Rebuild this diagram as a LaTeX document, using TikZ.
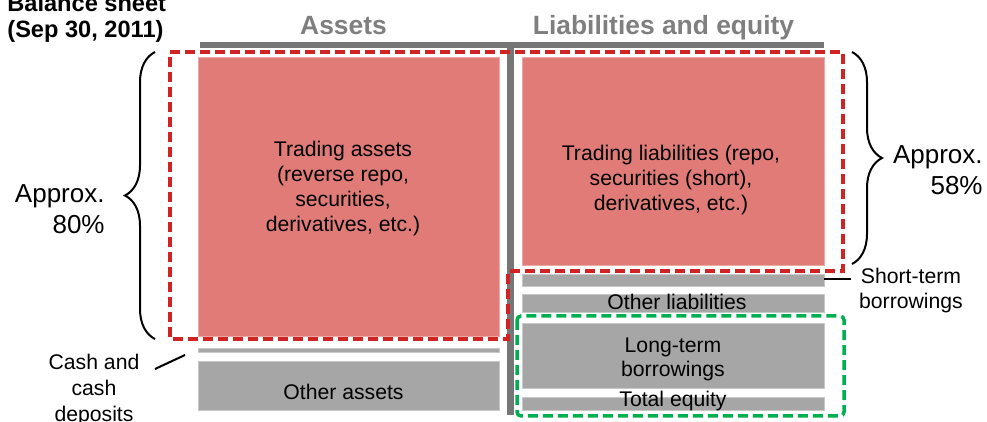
\documentclass[tikz,border=0pt]{standalone}
\usepackage{fontspec}
\setmainfont{Liberation Sans}
\usetikzlibrary{decorations.pathreplacing}
\definecolor{tradered}{RGB}{224,123,119}
\definecolor{tradeedge}{RGB}{236,168,165}
\definecolor{blockgray}{RGB}{166,166,166}
\definecolor{blockedge}{RGB}{200,200,200}
\definecolor{bargray}{RGB}{118,118,118}
\definecolor{headgray}{RGB}{127,127,127}
\definecolor{dashred}{RGB}{208,36,36}
\definecolor{dashgreen}{RGB}{0,176,80}
\begin{document}
\begin{tikzpicture}[x=0.5pt,y=-0.5pt,
  blk/.style={anchor=north west,inner sep=0pt,outer sep=0pt},
  redblk/.style={blk,fill=tradered,draw=tradeedge,line width=0.5pt},
  grayblk/.style={blk,fill=blockgray,draw=blockedge,line width=0.5pt},
  lbl/.style={inner sep=0pt,align=center,font=\fontsize{10.6pt}{12.5pt}\selectfont},
  big/.style={inner sep=0pt,anchor=east,align=right,font=\fontsize{13pt}{15.5pt}\selectfont},
  head/.style={inner sep=0pt,anchor=base,text=headgray,font=\fontsize{13.2pt}{15pt}\selectfont\bfseries},
  zone/.style={line width=1.75pt,dash pattern=on 5pt off 2.5pt},
  brc/.style={decorate,decoration={brace,amplitude=15pt},line width=1pt}]
  \useasboundingbox (0,0) rectangle (987,422);
  \node[inner sep=0pt,anchor=north west,align=left,font=\fontsize{11.8pt}{13pt}\selectfont\bfseries] (title) at (7,-6) {Balance sheet\\(Sep 30, 2011)};
  \node[head] (assethead) at (343.5,35) {Assets};
  \node[head] (liabhead) at (663.5,35) {Liabilities and equity};
  \draw [bargray,line width=3pt] (200,44.7) -- (824,44.7);
  \draw [bargray,line width=3.25pt] (510.5,41.7) -- (510.5,415);
  \node[redblk,minimum width=150.5pt,minimum height=139.5pt] (tra) at (198,58) {};
  \node[grayblk,minimum width=150.5pt,minimum height=2pt] (cash) at (198,349) {};
  \node[grayblk,minimum width=150.5pt,minimum height=24.5pt] (oth) at (198,362) {};
  \node[redblk,minimum width=151pt,minimum height=104pt] (trl) at (522,58) {};
  \node[grayblk,minimum width=151pt,minimum height=6pt] (stb) at (522,275) {};
  \node[grayblk,minimum width=151pt,minimum height=9pt] (olb) at (522,295) {};
  \node[grayblk,minimum width=151pt,minimum height=32.5pt] (ltb) at (522,324) {};
  \node[grayblk,minimum width=151pt,minimum height=6.5pt] (teq) at (522,398) {};
  \node[lbl] (tratxt) at (343,189) {Trading assets\\(reverse repo,\\securities,\\derivatives, etc.)};
  \node[lbl] (trltxt) at (671,180) {Trading liabilities (repo,\\securities (short),\\derivatives, etc.)};
  \node[lbl,anchor=base] (othtxt) at (343.5,400) {Other assets};
  \node[lbl,anchor=base] (olbtxt) at (677,310) {Other liabilities};
  \node[lbl,font=\fontsize{10.6pt}{12pt}\selectfont] (ltbtxt) at (673,359) {Long-term\\borrowings};
  \node[lbl,anchor=base] (teqtxt) at (673,407) {Total equity};
  \draw [zone,dashred] (170,52) -- (843,52) -- (843,271) -- (508,271) -- (508,339) -- (170,339) -- cycle;
  \draw [zone,dashgreen,rounded corners=2pt] (517,316) rectangle (844,416);
  \coordinate (lbtop) at (155,52);
  \coordinate (lbbot) at (155,339);
  \coordinate (rbtop) at (852,52);
  \coordinate (rbbot) at (852,264);
  \draw [brc] (lbbot) -- (lbtop);
  \draw [brc] (rbtop) -- (rbbot);
  \node[big] (leftpct) at (105,209) {Approx.\\80\%};
  \node[big] (rightpct) at (983,170) {Approx.\\58\%};
  \coordinate (stend) at (851,279);
  \draw [line width=1pt] (stb.east |- stend) -- (stend);
  \node[lbl] (stbtxt) at (911,291) {Short-term\\borrowings};
  \coordinate (cashtip) at (185,355);
  \coordinate (cashend) at (155,369);
  \draw [line width=1pt] (cashtip) -- (cashend);
  \node[lbl,font=\fontsize{10.6pt}{13.2pt}\selectfont] (cashtxt) at (94,390) {Cash and\\cash\\deposits};
\end{tikzpicture}
\end{document}
